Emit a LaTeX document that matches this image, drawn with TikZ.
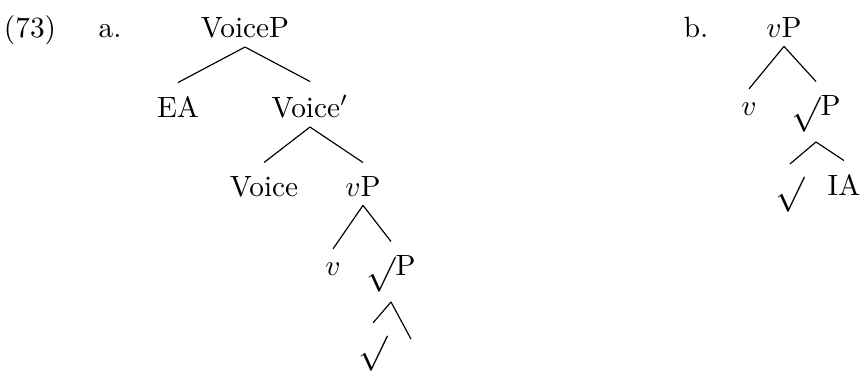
\documentclass[tikz,border=0pt]{standalone}
\usepackage{tikz}

% root sign, lifted so it sits beside the P
\newcommand{\rootsign}{\raisebox{6pt}{\raisebox{-\height}{\resizebox*{!}{12pt}{$\surd$}}}}

\begin{document}
\begin{tikzpicture}[
  x=0.3413pt, y=-0.3413pt,
  lbl/.style={anchor=base,inner sep=0pt},
  branch/.style={line width=0.4pt}
]
\useasboundingbox (0,0) rectangle (862,370);

% example number and sub-labels
\node[lbl] (exnum) at (30,37) {(73)};
\node[lbl] (suba) at (110,37) {a.};
\node[lbl] (subb) at (696,37) {b.};

% tree a
\node[lbl] (voiceP) at (245,37) {VoiceP};
\node[lbl] (ea) at (178,117) {EA};
\node[lbl] (voiceBar) at (310,117) {Voice$'$};
\node[lbl] (voice) at (264,196) {Voice};
\node[lbl] (vPa) at (363,196) {$v$P};
\node[lbl] (va) at (333,275) {$v$};
\node[lbl] (rootPa) at (391,275) {\rootsign P};
\node[lbl] (roota) at (373,354) {\rootsign};
\node[lbl] (emptya) at (411,354) {};

% tree b
\node[lbl] (vPb) at (784,37) {$v$P};
\node[lbl] (vb) at (749,115) {$v$};
\node[lbl] (rootPb) at (816,115) {\rootsign P};
\node[lbl] (rootb) at (790,195) {\rootsign};
\node[lbl] (ia) at (844,195) {IA};

\foreach \mother/\kid in {voiceP/ea, voiceP/voiceBar, voiceBar/voice, voiceBar/vPa,
    vPa/va, vPa/rootPa, rootPa/roota, rootPa/emptya,
    vPb/vb, vPb/rootPb, rootPb/rootb, rootPb/ia}
  \draw[branch] ([yshift=-3pt]\mother.south) -- ([yshift=4.4pt]\kid.north);
\end{tikzpicture}
\end{document}
